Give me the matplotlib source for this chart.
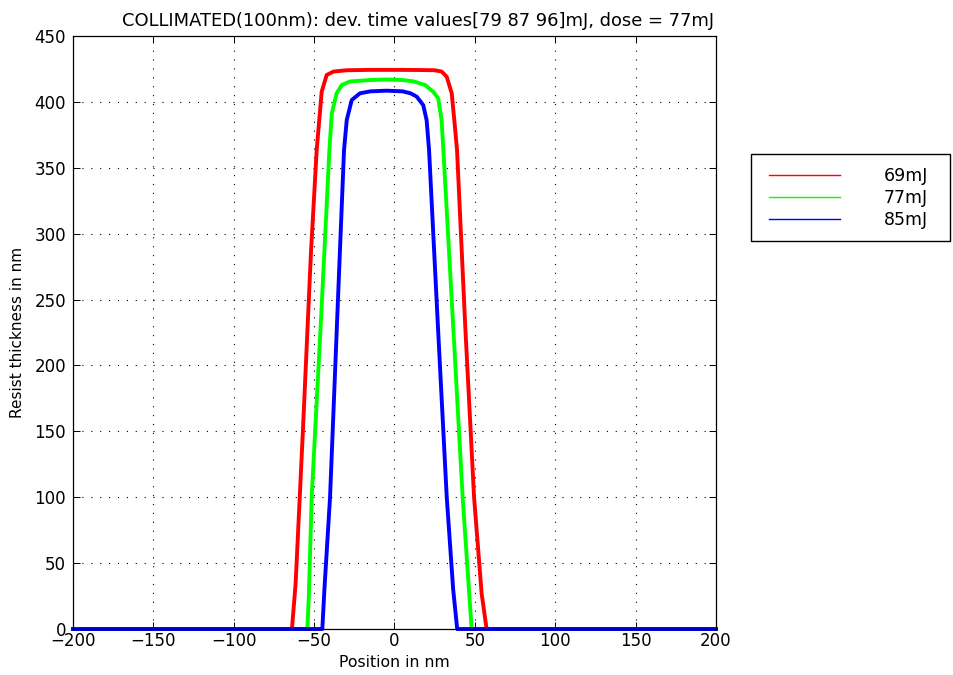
import matplotlib
matplotlib.use("Agg")
import matplotlib.pyplot as plt
from matplotlib.patches import Rectangle

plt.rcParams['font.family'] = ['DejaVu Sans']

title = "COLLIMATED(100nm): dev. time values[79 87 96]mJ, dose = 77mJ"
labels = ["69mJ", "77mJ", "85mJ"]
colors = ["#ff0000", "#00ff00", "#0000ff"]

x_69 = [-200, -63.8, -61.5, -57.0, -52.0, -48.4, -45.3, -42.2, -38.0, -30, -15, 0, 15, 25, 29.4, 32.5, 35.6, 37.6, 38.9, 44.0, 49.5, 54.2, 57.3, 200]
t_69 = [0, 0, 34.7, 150, 285, 363.5, 407.7, 420.4, 423, 424, 424.3, 424.3, 424.2, 424, 423, 419, 406.5, 381, 363.5, 230, 100, 27, 0, 0]

x_77 = [-200, -54.2, -53.3, -51.5, -45.5, -40.5, -39.0, -36.0, -32.8, -27.7, -15, -5, 5, 12, 19.0, 24.1, 27.2, 29.3, 30.4, 36.5, 42.4, 46.3, 48.0, 200]
t_77 = [0, 0, 25, 100.4, 240, 363.5, 391.3, 406.5, 412.8, 415.5, 416.6, 417, 416.6, 415.5, 412.8, 407.7, 402.7, 386, 363.5, 230, 100, 30, 0, 0]

x_85 = [-200, -44.9, -43.6, -40.1, -35.5, -31.4, -29.7, -26.6, -21.5, -15, -5, 5, 10, 13.8, 17.9, 20.0, 21.5, 27.0, 32.5, 36.5, 39.0, 200]
t_85 = [0, 0, 30, 100, 240, 363.5, 386.3, 401.4, 406.5, 408, 408.5, 408, 406.5, 404, 397.5, 386, 363.5, 230, 100, 30, 0, 0]

xticks = [-200, -150, -100, -50, 0, 50, 100, 150, 200]
yticks = [0, 50, 100, 150, 200, 250, 300, 350, 400, 450]

W, H = 954, 675
fig = plt.figure(figsize=(W / 100, H / 100), dpi=100)
ax = fig.add_axes([73 / W, 1 - 629 / H, 643 / W, 593 / H])

for xs, ts, c, lab in zip([x_69, x_77, x_85], [t_69, t_77, t_85], colors, labels):
    ax.plot(xs, ts, color=c, lw=2.8, label=lab, clip_on=False)

ax.set_xlim(-200, 200)
ax.set_ylim(0, 450)
ax.set_xticks(xticks)
ax.set_yticks(yticks)
ax.set_xticklabels([str(v).replace('-', '\u2212') for v in xticks])
ax.tick_params(direction='in', top=True, right=True, labelsize=12, length=5, width=0.7)
ax.tick_params(axis='x', pad=2)
ax.tick_params(axis='y', pad=5)
ax.grid(True, color='black', linestyle=(0, (1, 7)), linewidth=0.8)
for s in ax.spines.values():
    s.set_linewidth(0.9)

ax.set_title(title, fontsize=12.9, pad=7, x=0.537)
ax.set_xlabel("Position in nm", fontsize=11.3, labelpad=4)
ax.set_ylabel("Resist thickness in nm", fontsize=11, labelpad=7)

# legend box
fig.patches.append(Rectangle((751 / W, 1 - 241 / H), 199 / W, 87 / H,
                             transform=fig.transFigure, facecolor='white',
                             edgecolor='black', linewidth=1.0, zorder=1))
leg = fig.legend(loc='upper left', bbox_to_anchor=(769 / W, 1 - 167 / H),
                 fontsize=12.5, handlelength=4.1, handletextpad=2.5,
                 labelspacing=0.23, borderpad=0, borderaxespad=0,
                 frameon=False)
for h in leg.get_lines():
    h.set_linewidth(1.0)

fig.savefig("out.png", dpi=100)
